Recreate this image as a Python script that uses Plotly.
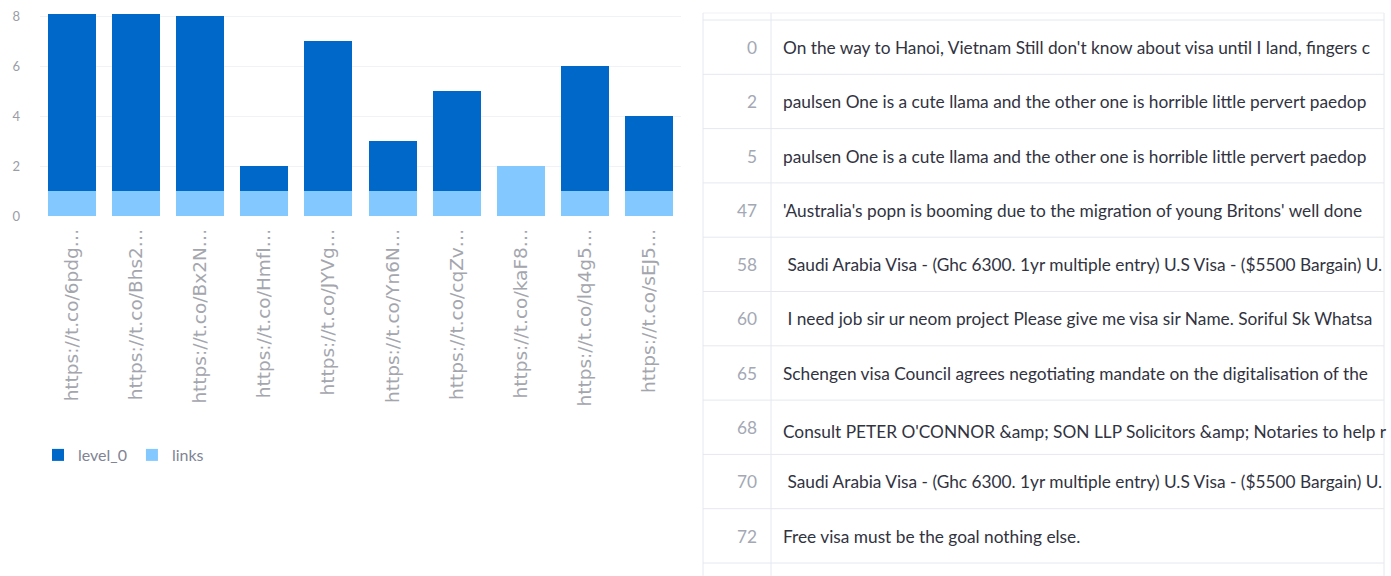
import plotly.graph_objects as go

W, H = 1391, 576

# ---- data ----
link_labels = [
    "https://t.co/6pdg…", "https://t.co/Bhs2…", "https://t.co/Bx2N…",
    "https://t.co/HmfI…", "https://t.co/JYVg…", "https://t.co/Yn6N…",
    "https://t.co/cqZv…", "https://t.co/kaF8…", "https://t.co/lq4g5…",
    "https://t.co/sEJ5…",
]
level_0 = [8, 8, 7, 1, 6, 2, 4, 0, 5, 3]
links = [1, 1, 1, 1, 1, 1, 1, 2, 1, 1]

row_index = [0, 2, 5, 47, 58, 60, 65, 68, 70, 72]
row_text = [
    "On the way to Hanoi, Vietnam Still don't know about visa until I land, fingers c",
    "paulsen One is a cute llama and the other one is horrible little pervert paedop",
    "paulsen One is a cute llama and the other one is horrible little pervert paedop",
    "'Australia's popn is booming due to the migration of young Britons' well done",
    " Saudi Arabia Visa - (Ghc 6300. 1yr multiple entry) U.S Visa - ($5500 Bargain) U.",
    " I need job sir ur neom project Please give me visa sir Name. Soriful Sk Whatsa",
    "Schengen visa Council agrees negotiating mandate on the digitalisation of the",
    "Consult PETER O'CONNOR &amp; SON LLP Solicitors &amp; Notaries to help r",
    " Saudi Arabia Visa - (Ghc 6300. 1yr multiple entry) U.S Visa - ($5500 Bargain) U.",
    "Free visa must be the goal nothing else.",
]

DARK = "#0068c9"
LIGHT = "#83c9ff"
FONT = "Lato"
GRID = "#e6e8ee"

# table geometry (pixels)
TBL_L, TBL_SEP, TBL_R = 703, 771, 1384
TBL_TOP, ROW0_TOP, ROW_H = 13, 20, 54.3


def px_x(p):
    return p / W


def px_y(p):
    return (H - p) / H


def esc(s):
    # keep literal "&" visible and stop the table from wrapping lines
    return s.replace("&", "&amp;").replace(" ", "\u00a0")


fig = go.Figure()
fig.add_trace(go.Bar(x=link_labels, y=links, name="links", marker_color=LIGHT,
                     marker_line_width=0, legendrank=2))
fig.add_trace(go.Bar(x=link_labels, y=level_0, name="level_0", marker_color=DARK,
                     marker_line_width=0, legendrank=1))

n = len(row_index)
fig.add_trace(go.Table(
    domain=dict(x=[px_x(TBL_L), 1.0], y=[0, px_y(TBL_TOP)]),
    columnwidth=[62, 10, W - TBL_L - 72],
    header=dict(values=["", "", ""], height=20, fill_color="rgba(0,0,0,0)",
                line_color="rgba(0,0,0,0)", font=dict(size=10)),
    cells=dict(
        values=[[str(i) for i in row_index], [""] * n, [esc(t) for t in row_text]],
        height=ROW_H,
        align=["right", "left", "left"],
        fill_color="rgba(0,0,0,0)",
        line_color="rgba(0,0,0,0)",
        font=dict(family=FONT, size=17.3, color=["#a3a8b4", "#31333f", "#31333f"]),
    ),
))

shapes = []
ys = [TBL_TOP] + [ROW0_TOP + k * ROW_H for k in range(n + 1)]
for i, y in enumerate(ys):
    shapes.append(dict(type="line", xref="paper", yref="paper",
                       x0=px_x(TBL_L), x1=px_x(TBL_R), y0=px_y(y), y1=px_y(y),
                       line=dict(color="#f0f1f4" if i == 0 else GRID, width=1),
                       layer="below"))
for x in (TBL_L, TBL_SEP, TBL_R):
    shapes.append(dict(type="line", xref="paper", yref="paper",
                       x0=px_x(x), x1=px_x(x), y0=px_y(TBL_TOP), y1=0,
                       line=dict(color=GRID, width=1), layer="below"))

fig.update_layout(
    width=W, height=H,
    margin=dict(l=0, r=0, t=0, b=0, autoexpand=False),
    paper_bgcolor="white", plot_bgcolor="white",
    barmode="stack", bargap=0.25,
    font=dict(family=FONT, color="#808495"),
    showlegend=True,
    shapes=shapes,
    legend=dict(orientation="h", x=px_x(38), y=px_y(455), xanchor="left",
                yanchor="middle", traceorder="normal",
                font=dict(size=16, color="#808495")),
    xaxis=dict(domain=[px_x(40), px_x(681)], tickangle=-90, automargin=False,
               tickfont=dict(family="DejaVu Sans", size=18.5, color="#a4a6ae"),
               showgrid=False, showline=False, zeroline=False,
               ticklabelstandoff=8),
    yaxis=dict(domain=[px_y(216), px_y(14)], range=[0, 8.08], automargin=False,
               tickvals=[0, 2, 4, 6, 8], tickfont=dict(size=13, color="#9a9ca6"),
               showgrid=True, gridcolor="#f0f2f6", zeroline=False,
               showline=False, ticklabelstandoff=19),
)

fig.write_html("out.html", config={"displayModeBar": False},
               post_script="document.body.style.margin='0';")
